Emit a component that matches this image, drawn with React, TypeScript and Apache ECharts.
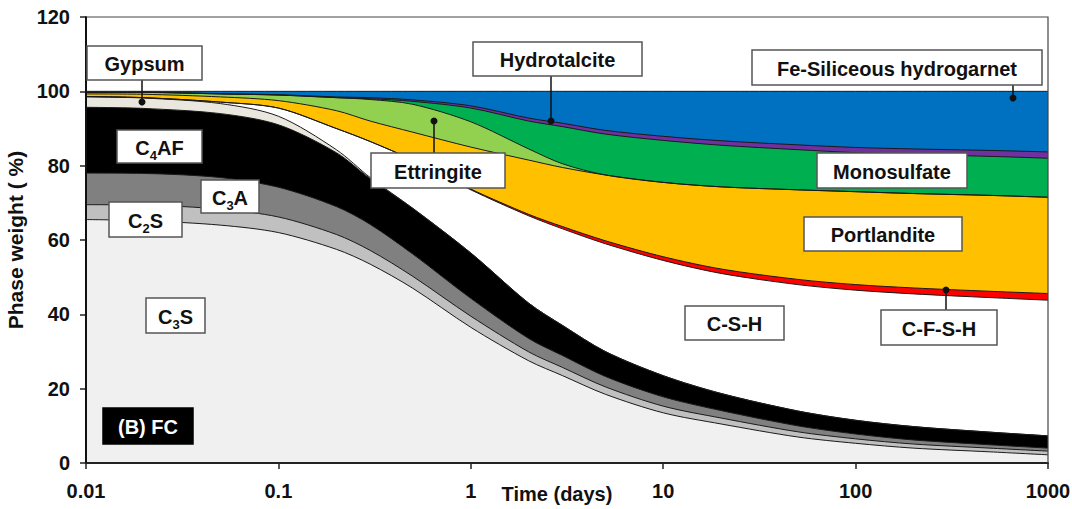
import React, { useEffect, useRef } from "react";
import * as echarts from "echarts";

// Time (days), log scale
const times = [0.01, 0.02, 0.05, 0.1, 0.2, 0.3, 0.5, 1, 2, 3, 5, 10, 20, 50, 100, 200, 500, 1000];

// Phase weight (%) per phase, stacked bottom to top
const c3s = [65.5, 65.2, 64, 62, 57.5, 53.5, 47, 36.5, 27.5, 23.5, 18.5, 13.5, 10.5, 7, 5.3, 4, 3, 2.2];
const c2s = [4, 4.2, 4.3, 4.2, 4, 3.7, 3.2, 3, 2.4, 2.2, 2, 1.8, 1.6, 1.4, 1.2, 1.1, 1, 1];
const c3a = [8.5, 8.5, 8.5, 8, 7.5, 7, 6, 4.8, 3.6, 3.2, 2.8, 2.5, 2, 1.6, 1.3, 1.1, 0.9, 0.8];
const c4af = [17.7, 17.5, 17.2, 16.8, 14.5, 12.3, 12.3, 12.2, 9.5, 8.1, 6.7, 5.7, 4.6, 4, 3.7, 3.6, 3.4, 3.3];
const gypsum = [2.8, 2.8, 2.7, 2.3, 0.8, 0.3, 0, 0, 0, 0, 0, 0, 0, 0, 0, 0, 0, 0];
const csh = [0.1, 0.1, 0.4, 2.2, 5.7, 9.7, 13, 17, 23.5, 26, 29, 31, 32.3, 34, 35, 35.7, 36.2, 36.5];
const cfsh = [0, 0, 0, 0, 0, 0, 0, 0.2, 0.4, 0.6, 0.8, 1, 1.2, 1.4, 1.5, 1.6, 1.7, 1.8];
const portlandite = [0.7, 0.9, 1.4, 2, 4.8, 5.5, 7.5, 11.3, 14.6, 15.9, 17.7, 20, 22.1, 24.1, 25, 25.4, 25.8, 25.9];
const ettringite = [0.4, 0.5, 0.8, 1.5, 3.5, 5.8, 7.5, 6.8, 3, 1, 0, 0, 0, 0, 0, 0, 0, 0];
const monosulfate = [0, 0, 0, 0, 0, 0.2, 0.8, 3.7, 7.5, 10, 11, 11.3, 11.2, 10.8, 10.5, 10.5, 10.5, 10.5];
const hydrotalcite = [0.05, 0.05, 0.1, 0.1, 0.2, 0.3, 0.4, 0.6, 0.8, 0.9, 1, 1.1, 1.2, 1.3, 1.4, 1.5, 1.6, 1.7];
const hydrogarnet = [0.25, 0.25, 0.6, 0.9, 1.5, 1.7, 2.3, 3.9, 7.2, 8.6, 10.5, 12.1, 13.3, 14.4, 15.1, 15.5, 15.9, 16.3];

const xTickLabels = ["0.01", "0.1", "1", "10", "100", "1000"];
const yTicks = [0, 20, 40, 60, 80, 100, 120];

const layers = [
  { name: "C3S", values: c3s, color: "#f0f0f0" },
  { name: "C2S", values: c2s, color: "#c0c0c0" },
  { name: "C3A", values: c3a, color: "#808080" },
  { name: "C4AF", values: c4af, color: "#000000" },
  { name: "Gypsum", values: gypsum, color: "#e9e7de" },
  { name: "C-S-H", values: csh, color: "#ffffff" },
  { name: "C-F-S-H", values: cfsh, color: "#ff0000" },
  { name: "Portlandite", values: portlandite, color: "#ffc000" },
  { name: "Ettringite", values: ettringite, color: "#92d050" },
  { name: "Monosulfate", values: monosulfate, color: "#00b050" },
  { name: "Hydrotalcite", values: hydrotalcite, color: "#7030a0" },
  { name: "Fe-Siliceous hydrogarnet", values: hydrogarnet, color: "#0070c0" },
];

const FONT = "'Liberation Sans', Arial, sans-serif";
const ZTOP = 100;
const GRID = { left: 86, right: 24, top: 17, bottom: 46 };
const W = 1072;
const H = 509;

function labelBox(x: number, y: number, w: number, h: number, text: string, rich?: any, dark?: boolean) {
  return [
    {
      type: "rect",
      z: ZTOP,
      shape: { x, y, width: w, height: h },
      style: { fill: dark ? "#000" : "#fff", stroke: dark ? "#000" : "#555", lineWidth: 1.5 },
    },
    {
      type: "text",
      z: ZTOP + 1,
      style: {
        text,
        x: x + w / 2,
        y: y + h / 2 + 1,
        align: "center",
        verticalAlign: "middle",
        fill: dark ? "#fff" : "#111",
        font: `bold 20px ${FONT}`,
        rich,
      },
    },
  ];
}

function leader(x: number, y1: number, y2: number, dotY: number) {
  return [
    { type: "line", z: ZTOP, shape: { x1: x, y1, x2: x, y2 }, style: { stroke: "#111", lineWidth: 1.5 } },
    { type: "circle", z: ZTOP, shape: { cx: x, cy: dotY, r: 3.5 }, style: { fill: "#111" } },
  ];
}

const subRich = {
  a: { fontSize: 20, fontWeight: "bold", fontFamily: FONT, fill: "#111", lineHeight: 24, verticalAlign: "middle" },
  s: { fontSize: 13, fontWeight: "bold", fontFamily: FONT, fill: "#111", lineHeight: 13, verticalAlign: "bottom", padding: [0, 0, -2, 0] },
};

export default function App() {
  const ref = useRef<HTMLDivElement>(null);
  useEffect(() => {
    document.body.style.margin = "0";
    if (!ref.current) return;
    const chart = echarts.init(ref.current, undefined, { renderer: "svg" });

    // cumulative tops, bottom to top
    const running = times.map(() => 0);
    const cumulative = layers.map((l) => {
      const tops = l.values.map((v, i) => {
        running[i] = running[i] + v;
        return Math.round(running[i] * 1000) / 1000;
      });
      return { ...l, tops };
    });
    // draw top layer first so lower layers paint over it
    const drawOrder = cumulative.slice().reverse();

    const x0 = GRID.left;
    const x1 = W - GRID.right;
    const y0 = GRID.top;
    const y1 = H - GRID.bottom;

    const graphics = [
      // frame on top of the areas (right and top borders)
      { type: "polyline", z: ZTOP - 1, shape: { points: [[x0, y0], [x1, y0], [x1, y1]] }, style: { stroke: "#444", lineWidth: 1.2, fill: null } },
      { type: "line", z: ZTOP - 1, shape: { x1: x0, y1: y0, x2: x0, y2: y1 }, style: { stroke: "#111", lineWidth: 2 } },
      // x-axis title, placed beside the "1" tick label as in the original
      {
        type: "text",
        z: ZTOP,
        style: { text: "Time (days)", x: 557, y: 494, align: "center", verticalAlign: "middle", fill: "#111", font: `bold 20px ${FONT}` },
      },
      ...leader(142, 80, 102, 102),
      ...leader(551, 75, 121, 121),
      ...leader(434, 153, 121, 121),
      ...leader(1013, 85, 98, 98),
      ...leader(946, 310, 290, 290),
      ...labelBox(87, 46, 115, 34, "Gypsum"),
      ...labelBox(473, 42, 169, 34, "Hydrotalcite"),
      ...labelBox(752, 50, 290, 35, "Fe-Siliceous hydrogarnet"),
      ...labelBox(371, 153, 134, 35, "Ettringite"),
      ...labelBox(817, 153, 150, 35, "Monosulfate"),
      ...labelBox(804, 217, 158, 34, "Portlandite"),
      ...labelBox(685, 306, 99, 34, "C-S-H"),
      ...labelBox(881, 310, 116, 35, "C-F-S-H"),
      ...labelBox(117, 130, 85, 33, "{a|C}{s|4}{a|AF}", subRich),
      ...labelBox(201, 180, 58, 33, "{a|C}{s|3}{a|A}", subRich),
      ...labelBox(109, 202, 73, 35, "{a|C}{s|2}{a|S}", subRich),
      ...labelBox(146, 298, 59, 35, "{a|C}{s|3}{a|S}", subRich),
      ...labelBox(103, 408, 90, 36, "(B) FC", undefined, true),
    ];

    const option: any = {
      animation: false,
      grid: { ...GRID, outerBoundsMode: "none", containLabel: false, show: false },
      xAxis: {
        type: "log",
        logBase: 10,
        min: 0.01,
        max: 1000,
        axisLine: { show: true, onZero: false, lineStyle: { color: "#222", width: 2 } },
        axisTick: { show: true, inside: false, length: 6, lineStyle: { color: "#222", width: 1.5 } },
        minorTick: { show: false },
        splitLine: { show: false },
        axisLabel: {
          margin: 18,
          fontSize: 20,
          fontWeight: "bold",
          color: "#111",
          fontFamily: FONT,
          formatter: (v: number) => xTickLabels[Math.round(Math.log10(v)) + 2] ?? "",
        },
        z: 10,
      },
      yAxis: {
        type: "value",
        min: yTicks[0],
        max: yTicks[yTicks.length - 1],
        interval: 20,
        name: "Phase weight ( %)",
        nameLocation: "middle",
        nameGap: 56,
        nameTextStyle: { fontSize: 21, fontWeight: "bold", color: "#111", fontFamily: FONT },
        axisLine: { show: true, lineStyle: { color: "#222", width: 2 } },
        axisTick: { show: true, inside: false, length: 6, lineStyle: { color: "#222", width: 1.5 } },
        splitLine: { show: false },
        axisLabel: { margin: 16, fontSize: 20, fontWeight: "bold", color: "#111", fontFamily: FONT },
        z: 10,
      },
      series: drawOrder.map((l) => ({
        name: l.name,
        type: "line",
        smooth: 0.3,
        symbol: "none",
        showSymbol: false,
        data: times.map((t, i) => [t, l.tops[i]]),
        lineStyle: { color: "#1a1a1a", width: 1 },
        areaStyle: { color: l.color, opacity: 1, origin: "start" },
      })),
      graphic: { elements: graphics },
    };
    chart.setOption(option);
    return () => chart.dispose();
  }, []);
  return <div ref={ref} style={{ width: W, height: H }} />;
}
